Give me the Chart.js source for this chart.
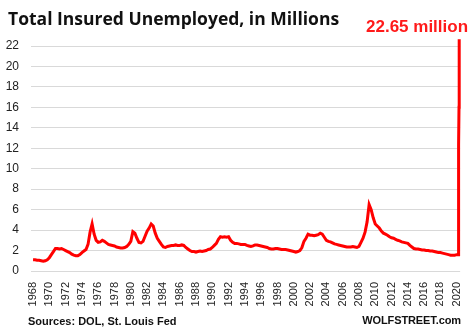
<!DOCTYPE html>
<html>
<head>
<meta charset="utf-8">
<script src="https://cdn.jsdelivr.net/npm/chart.js@4/dist/chart.umd.min.js"></script>
<style>
  html, body { margin: 0; padding: 0; background: #fff; }
  #wrap { position: relative; width: 473px; height: 332px; overflow: hidden; font-family: "Liberation Sans", Arial, sans-serif; }
  #chart { position: absolute; left: 0; top: 0; }
  .txt { position: absolute; white-space: nowrap; font-weight: bold; line-height: 1; }
  #title { left: 8px; top: 10px; font-size: 17.5px; color: #111; font-family: "Open Sans", sans-serif; }
  #peak { left: 366px; top: 18px; font-size: 17px; color: #ff1a1a; }
  #source { left: 28px; top: 316px; font-size: 11px; color: #111; }
  #brand { right: 12px; top: 315px; font-size: 11px; color: #111; letter-spacing: -0.1px; }
</style>
</head>
<body>
<div id="wrap">
  <canvas id="chart" width="473" height="332"></canvas>
  <div class="txt" id="title">Total Insured Unemployed, in Millions</div>
  <div class="txt" id="peak">22.65 million</div>
  <div class="txt" id="source">Sources: DOL, St. Louis Fed</div>
  <div class="txt" id="brand">WOLFSTREET.com</div>
</div>
<script>
// quarterly readings (millions), starting Q1 1968
const firstYear = 1968;
const quarterlyClaims = [
  1.1, 1.1, 1.05, 1.05,   // 1968
  1.0, 0.95, 1.0, 1.1,    // 1969
  1.3, 1.6, 1.9, 2.2,     // 1970
  2.2, 2.15, 2.2, 2.1,    // 1971
  2.0, 1.9, 1.8, 1.65,    // 1972
  1.55, 1.5, 1.5, 1.6,    // 1973
  1.8, 1.95, 2.1, 2.6,    // 1974
  3.8, 4.6, 3.6, 3.0,     // 1975
  2.8, 2.85, 3.0, 2.9,    // 1976
  2.75, 2.6, 2.55, 2.5,   // 1977
  2.45, 2.35, 2.3, 2.25,  // 1978
  2.25, 2.3, 2.4, 2.6,    // 1979
  2.9, 3.85, 3.7, 3.2,    // 1980
  2.8, 2.75, 2.9, 3.4,    // 1981
  3.9, 4.2, 4.6, 4.4,     // 1982
  3.7, 3.2, 2.9, 2.6,     // 1983
  2.35, 2.3, 2.4, 2.45,   // 1984
  2.5, 2.5, 2.55, 2.5,    // 1985
  2.5, 2.55, 2.5, 2.3,    // 1986
  2.15, 2.0, 1.9, 1.9,    // 1987
  1.85, 1.9, 1.95, 1.9,   // 1988
  1.95, 2.0, 2.1, 2.15,   // 1989
  2.3, 2.5, 2.7, 3.1,     // 1990
  3.35, 3.3, 3.35, 3.3,   // 1991
  3.35, 3.0, 2.8, 2.7,    // 1992
  2.7, 2.65, 2.6, 2.6,    // 1993
  2.6, 2.5, 2.45, 2.4,    // 1994
  2.45, 2.55, 2.55, 2.5,  // 1995
  2.45, 2.4, 2.35, 2.3,   // 1996
  2.2, 2.15, 2.15, 2.2,   // 1997
  2.2, 2.15, 2.1, 2.1,    // 1998
  2.1, 2.05, 2.0, 1.95,   // 1999
  1.9, 1.85, 1.9, 2.0,    // 2000
  2.3, 2.9, 3.2, 3.6,     // 2001
  3.5, 3.5, 3.45, 3.5,    // 2002
  3.55, 3.7, 3.6, 3.3,    // 2003
  3.0, 2.9, 2.85, 2.75,   // 2004
  2.65, 2.6, 2.55, 2.5,   // 2005
  2.45, 2.4, 2.35, 2.35,  // 2006
  2.35, 2.4, 2.35, 2.3,   // 2007
  2.4, 2.8, 3.2, 3.8,     // 2008
  4.8, 6.5, 6.0, 5.2,     // 2009
  4.6, 4.4, 4.2, 3.9,     // 2010
  3.7, 3.6, 3.5, 3.35,    // 2011
  3.25, 3.2, 3.1, 3.0,    // 2012
  2.95, 2.85, 2.8, 2.75,  // 2013
  2.7, 2.5, 2.35, 2.2,    // 2014
  2.15, 2.15, 2.1, 2.05,  // 2015
  2.05, 2.0, 2.0, 1.95,   // 2016
  1.95, 1.9, 1.85, 1.8,   // 2017
  1.8, 1.75, 1.7, 1.65,   // 2018
  1.6, 1.55, 1.55, 1.55   // 2019
];

// 2020 weekly readings (decimal year, millions)
const weeks2020 = [2020.0, 2020.08, 2020.18, 2020.2, 2020.22, 2020.24, 2020.26, 2020.28, 2020.3, 2020.31];
const claims2020 = [1.6, 1.6, 1.6, 1.7, 3.0, 7.4, 12.4, 16.0, 18.0, 22.65];

const yearTicks = [];
for (let y = 1968; y <= 2020; y += 2) yearTicks.push(y);
const valueTicks = [0, 2, 4, 6, 8, 10, 12, 14, 16, 18, 20, 22];

const points = quarterlyClaims.map((v, i) => ({ x: firstYear + i / 4, y: v }))
  .concat(weeks2020.map((x, i) => ({ x: x, y: claims2020[i] })));

const tickFont = { family: '"Liberation Sans", Arial, sans-serif', size: 12 };

new Chart(document.getElementById('chart').getContext('2d'), {
  type: 'line',
  data: {
    datasets: [{
      data: points,
      borderColor: '#ff0000',
      borderWidth: 3,
      pointRadius: 0,
      tension: 0,
      clip: false
    }]
  },
  options: {
    responsive: false,
    animation: false,
    layout: { padding: { left: 0, right: 10, top: 46, bottom: 21 } },
    plugins: { legend: { display: false }, tooltip: { enabled: false } },
    scales: {
      x: {
        type: 'linear',
        min: 1967.75,
        max: 2020.42,
        afterBuildTicks: s => { s.ticks = yearTicks.map(v => ({ value: v })); },
        afterFit: s => { s.height = 40; },
        grid: { display: false },
        border: { display: false },
        ticks: {
          autoSkip: false,
          minRotation: 90,
          maxRotation: 90,
          padding: 3,
          color: '#222',
          font: { family: tickFont.family, size: 11 },
          callback: v => String(v)
        }
      },
      y: {
        min: 0,
        max: 22,
        afterBuildTicks: s => { s.ticks = valueTicks.map(v => ({ value: v })); },
        afterFit: s => { s.width = 31; },
        grid: { color: '#d9d9d9', lineWidth: 1, drawTicks: false },
        border: { display: false },
        ticks: { padding: 12, color: '#222', font: tickFont }
      }
    }
  }
});
</script>
</body>
</html>
